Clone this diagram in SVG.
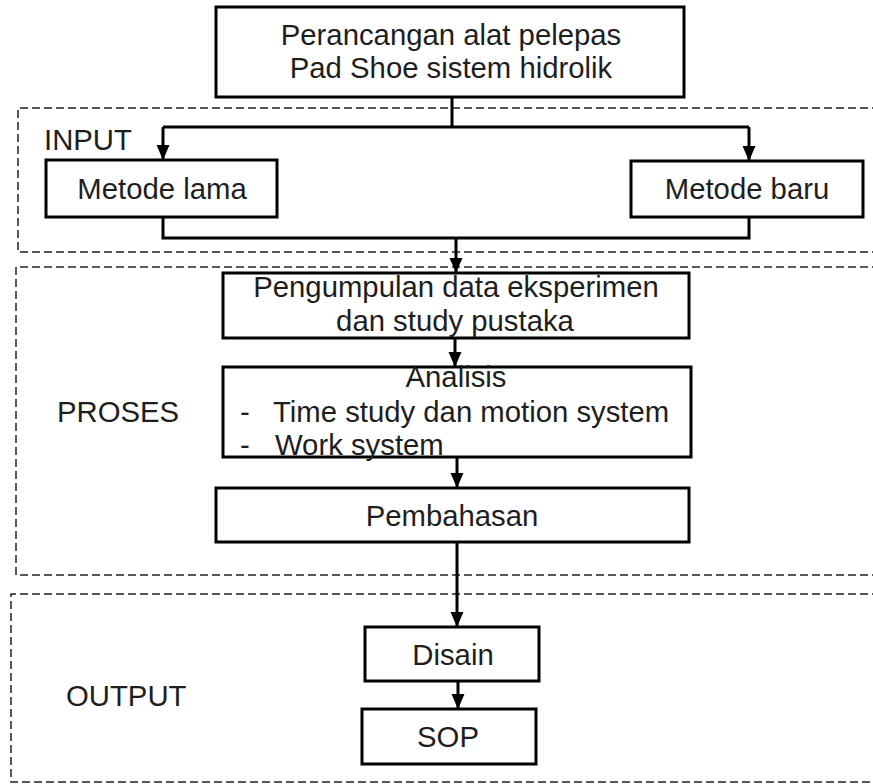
<svg xmlns="http://www.w3.org/2000/svg" width="873" height="784" viewBox="0 0 873 784">
<style>
.box{fill:#fff;stroke:#000;stroke-width:3}
.grp{fill:none;stroke:#222;stroke-width:1.5;stroke-dasharray:8 4}
.ln{fill:none;stroke:#000;stroke-width:3}
text{font-family:"Liberation Sans",Arial,sans-serif;font-size:29.3px;fill:#1e1e1e}
.c{text-anchor:middle}
</style>
<defs>
<marker id="arr" markerWidth="15" markerHeight="14" refX="15" refY="7" orient="auto" markerUnits="userSpaceOnUse" viewBox="0 0 15 14">
<path d="M0,0.5 L15,7 L0,13.5 Z" fill="#000"/>
</marker>
</defs>
<rect width="873" height="784" fill="#fff"/>
<g id="groups">
<path class="grp" d="M880,108 H18 V252 H880"/>
<path class="grp" d="M880,267 H16 V575 H880"/>
<path class="grp" d="M880,594 H11 V782 H880"/>
<text x="44" y="150">INPUT</text>
<text x="57" y="422">PROSES</text>
<text x="66" y="706">OUTPUT</text>
</g>
<g id="connectors">
<path class="ln" d="M452,97 V127"/>
<path class="ln" d="M163,127 H749"/>
<path class="ln" d="M163,127 V160" marker-end="url(#arr)"/>
<path class="ln" d="M749,127 V161" marker-end="url(#arr)"/>
<path class="ln" d="M163,217 V238 H749 V217"/>
<path class="ln" d="M456,238 V273" marker-end="url(#arr)"/>
<path class="ln" d="M455,338 V367" marker-end="url(#arr)"/>
<path class="ln" d="M457,453 V488" marker-end="url(#arr)"/>
<path class="ln" d="M457,542 V627" marker-end="url(#arr)"/>
<path class="ln" d="M458,681 V709" marker-end="url(#arr)"/>
</g>
<g id="n-top">
<rect class="box" x="216" y="7" width="468" height="90"/>
<text class="c" x="451" y="45">Perancangan alat pelepas</text>
<text class="c" x="451" y="78">Pad Shoe sistem hidrolik</text>
</g>
<g id="n-lama">
<rect class="box" x="46" y="160" width="231" height="57"/>
<text class="c" x="162" y="199">Metode lama</text>
</g>
<g id="n-baru">
<rect class="box" x="631" y="161" width="232" height="56"/>
<text class="c" x="747" y="199">Metode baru</text>
</g>
<g id="n-pengumpulan">
<rect class="box" x="223" y="273" width="466" height="65"/>
<text class="c" x="456" y="297">Pengumpulan data eksperimen</text>
<text class="c" x="455" y="331">dan study pustaka</text>
</g>
<g id="n-analisis">
<rect class="box" x="223" y="367" width="468" height="90"/>
<text class="c" x="456" y="387">Analisis</text>
<text x="240" y="422">-</text>
<text x="273" y="422">Time study dan motion system</text>
<text x="240" y="455">-</text>
<text x="275" y="455">Work system</text>
</g>
<g id="n-pembahasan">
<rect class="box" x="216" y="488" width="473" height="54"/>
<text class="c" x="452" y="526">Pembahasan</text>
</g>
<g id="n-disain">
<rect class="box" x="365" y="627" width="174" height="54"/>
<text class="c" x="453" y="665">Disain</text>
</g>
<g id="n-sop">
<rect class="box" x="362" y="709" width="174" height="55"/>
<text class="c" x="448" y="747">SOP</text>
</g>
</svg>
